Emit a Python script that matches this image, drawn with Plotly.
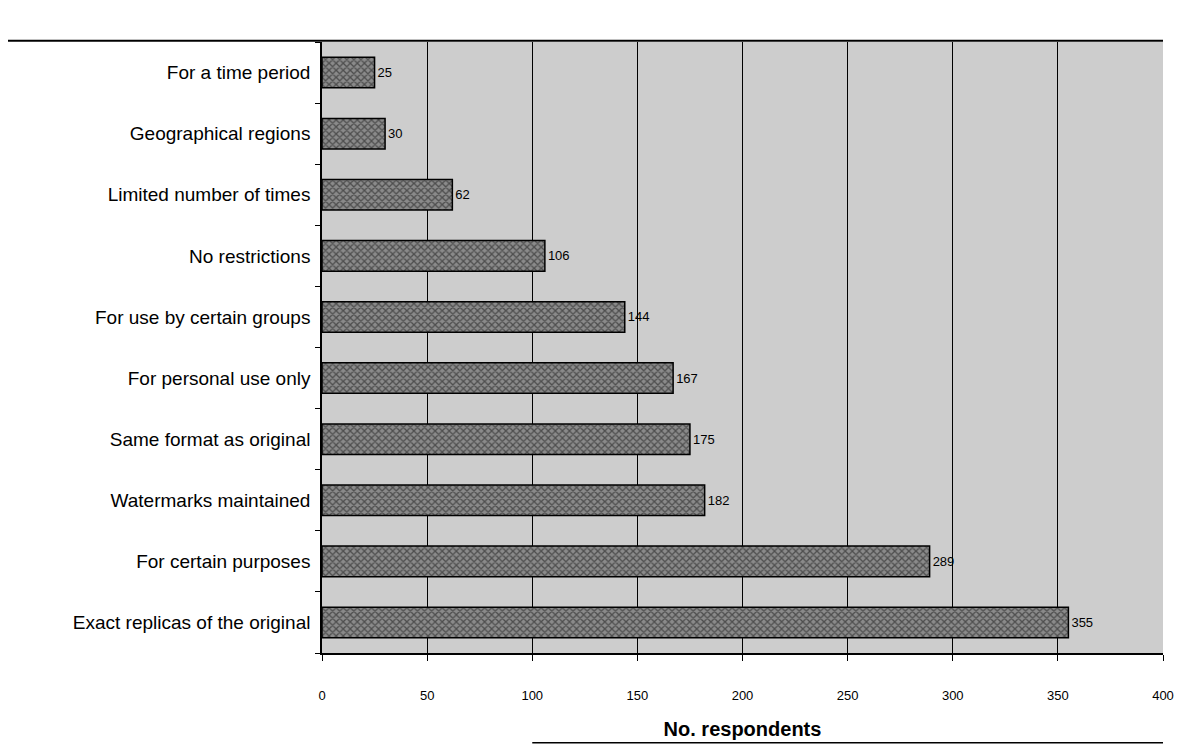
import plotly.graph_objects as go

categories = [
    "Exact replicas of the original",
    "For certain purposes",
    "Watermarks maintained",
    "Same format as original",
    "For personal use only",
    "For use by certain groups",
    "No restrictions",
    "Limited number of times",
    "Geographical regions",
    "For a time period",
]
values = [355, 289, 182, 175, 167, 144, 106, 62, 30, 25]
x_ticks = [0, 50, 100, 150, 200, 250, 300, 350, 400]

fig = go.Figure()
fig.add_trace(go.Bar(
    y=categories,
    x=values,
    orientation="h",
    width=0.5,
    marker=dict(
        color="#4f4f4f",
        line=dict(color="black", width=1.5),
        pattern=dict(shape="x", fgcolor="#111111", bgcolor="#8a8a8a", size=5, solidity=0.45),
    ),
    text=[str(v) for v in values],
    textposition="outside",
    textfont=dict(family="Liberation Sans", size=13, color="black"),
    cliponaxis=False,
    showlegend=False,
))

fig.update_layout(
    width=1192,
    height=747,
    margin=dict(l=314, r=37, t=34, b=102, autoexpand=False),
    paper_bgcolor="white",
    plot_bgcolor="#cdcdcd",
    font=dict(family="Liberation Sans", color="black"),
    shapes=[
        dict(type="line", xref="paper", yref="paper", x0=-0.39, x1=1.0, y0=1.002, y1=1.002,
             line=dict(color="black", width=2)),
        dict(type="line", xref="paper", yref="paper", x0=0.25, x1=1.0, y0=-0.147, y1=-0.147,
             line=dict(color="black", width=1.5)),
    ],
)
fig.update_xaxes(
    range=[0, 400],
    tickvals=x_ticks,
    ticktext=[str(t) for t in x_ticks],
    showgrid=True,
    gridcolor="black",
    gridwidth=1,
    showline=True,
    linecolor="black",
    linewidth=1.5,
    ticks="outside",
    ticklen=6,
    tickcolor="black",
    ticklabelstandoff=24,
    tickfont=dict(size=13, family="Liberation Sans", color="black"),
    title=dict(text="<b>No. respondents</b>", font=dict(size=20, family="Liberation Sans", color="black"), standoff=20),
    zeroline=False,
    automargin=False,
)
fig.update_yaxes(
    categoryorder="array",
    categoryarray=categories,
    showline=True,
    linecolor="black",
    linewidth=1.5,
    ticks="outside",
    ticklen=5,
    tickcolor="black",
    tickson="boundaries",
    showgrid=False,
    tickfont=dict(size=19, family="Liberation Sans", color="black"),
    ticklabelstandoff=6,
    automargin=False,
)

fig.write_html("out.html")
